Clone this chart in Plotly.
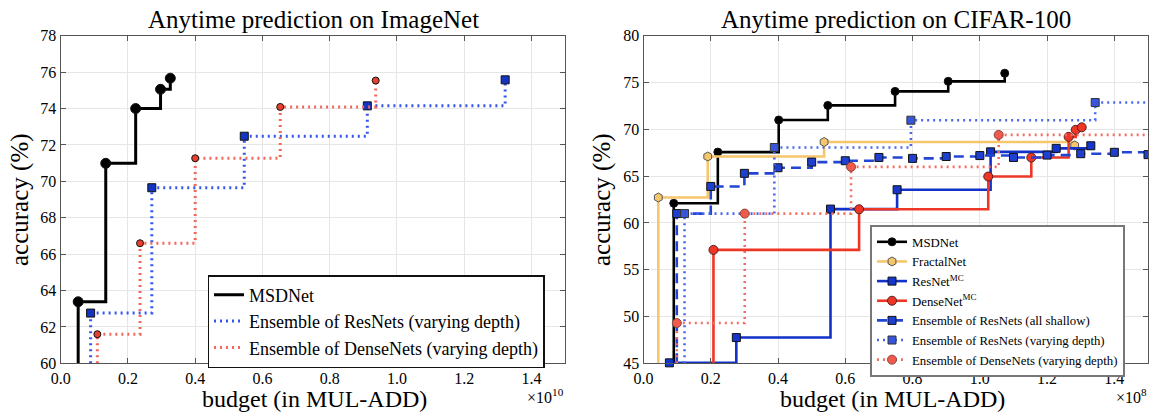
import plotly.graph_objects as go

# ---------------- data ----------------
# ImageNet (budget in units of 1e10 MUL-ADD)
in_msd_x = [0.052, 0.134, 0.223, 0.297, 0.326]
in_msd_y = [63.38, 70.99, 74.0, 75.06, 75.67]
in_resens_x = [0.089, 0.271, 0.546, 0.912, 1.322]
in_resens_y = [62.76, 69.65, 72.48, 74.15, 75.58]
in_denseens_x = [0.109, 0.236, 0.400, 0.653, 0.937]
in_denseens_y = [61.6, 66.6, 71.27, 74.09, 75.54]

# CIFAR-100 (budget in units of 1e8 MUL-ADD)
c_msd_x = [0.090, 0.221, 0.402, 0.548, 0.748, 0.906, 1.074]
c_msd_y = [62.1, 67.57, 71.0, 72.56, 74.06, 75.13, 76.0]
c_fractal_x = [0.044, 0.191, 0.537, 1.282]
c_fractal_y = [62.72, 67.1, 68.65, 68.28]
c_resmc_x = [0.077, 0.276, 0.556, 0.754, 1.032, 1.227, 1.330]
c_resmc_y = [45.05, 47.75, 61.48, 63.55, 67.6, 67.97, 68.25]
c_densemc_x = [0.208, 0.641, 1.025, 1.153, 1.264, 1.285, 1.303]
c_densemc_y = [57.12, 61.46, 64.96, 66.99, 69.2, 69.95, 70.22]
c_resshallow_x = [0.099, 0.2, 0.3, 0.4, 0.5, 0.6, 0.7, 0.8, 0.9, 1.0, 1.1, 1.2, 1.3, 1.4, 1.5]
c_resshallow_y = [61.0, 63.9, 65.3, 65.9, 66.5, 66.65, 67.0, 66.9, 67.1, 67.2, 67.0, 67.25, 67.4, 67.55, 67.3]
c_resvary_x = [0.122, 0.389, 0.795, 1.343]
c_resvary_y = [61.0, 68.06, 70.98, 72.87]
c_densevary_x = [0.099, 0.301, 0.617, 1.056]
c_densevary_y = [49.3, 61.0, 65.99, 69.41]

left_x_range = [0, 1.5]
left_y_range = [60, 78]
right_x_range = [0, 1.5]
right_y_range = [45, 80]
left_y_ticks = [60, 62, 64, 66, 68, 70, 72, 74, 76, 78]
right_y_ticks = [45, 50, 55, 60, 65, 70, 75, 80]
x_ticks = [0.0, 0.2, 0.4, 0.6, 0.8, 1.0, 1.2, 1.4]

# ---------------- layout helpers ----------------
W, H = 1150, 412
FONT = "Liberation Serif"


def px(p):
    return p / W


def py(p):
    return 1 - p / H


L_DOM = [px(60.7), px(565)]
R_DOM = [px(643.5), px(1148)]
Y_DOM = [py(363.3), py(35.8)]

fig = go.Figure()


def add_series(xs, ys, xa, ya, ymin, color, width, dash, symbol, msize, mfill,
               name, legend, legend_markers=True, extend_to=None, medge="#111",
               clip=True):
    # vertical lead-in from the bottom of the axis to the first point
    fig.add_trace(go.Scatter(x=[xs[0], xs[0]], y=[ymin, ys[0]], mode="lines",
                             line=dict(color=color, width=width, dash=dash),
                             xaxis=xa, yaxis=ya, showlegend=False, hoverinfo="skip"))
    if extend_to is not None:
        fig.add_trace(go.Scatter(x=[xs[-1], extend_to], y=[ys[-1], ys[-1]], mode="lines",
                                 line=dict(color=color, width=width, dash=dash),
                                 xaxis=xa, yaxis=ya, showlegend=False, hoverinfo="skip"))
    fig.add_trace(go.Scatter(
        x=xs, y=ys, mode="lines+markers", line_shape="hv",
        line=dict(color=color, width=width, dash=dash),
        marker=dict(symbol=symbol, size=msize, color=mfill, line=dict(color=medge, width=1)),
        xaxis=xa, yaxis=ya, name=name, legend=legend,
        showlegend=legend_markers, cliponaxis=clip))
    if not legend_markers:
        fig.add_trace(go.Scatter(x=[None], y=[None], mode="lines",
                                 line=dict(color=color, width=width, dash=dash),
                                 xaxis=xa, yaxis=ya, name=name, legend=legend))


DOT = "2px,4px"
DASH = "10px,6px"

# ---- left: ImageNet ----
ly0 = left_y_range[0]
add_series(in_msd_x, in_msd_y, "x", "y", ly0, "black", 3, "solid", "circle", 10, "black",
           "MSDNet", "legend", legend_markers=False)
add_series(in_resens_x, in_resens_y, "x", "y", ly0, "#3556ee", 3, DOT, "square", 8, "#1434c4",
           "Ensemble of ResNets (varying depth)", "legend", legend_markers=False)
add_series(in_denseens_x, in_denseens_y, "x", "y", ly0, "#f2685a", 3, DOT, "circle", 7, "#e8402e",
           "Ensemble of DenseNets (varying depth)", "legend", legend_markers=False)

# ---- right: CIFAR-100 ----
ry0 = right_y_range[0]
xmax = right_x_range[1]
add_series(c_msd_x, c_msd_y, "x2", "y2", ry0, "black", 2.6, "solid", "circle", 8, "black",
           "MSDNet", "legend2")
add_series(c_fractal_x, c_fractal_y, "x2", "y2", ry0, "#f6c66c", 2.6, "solid", "hexagon", 9, "#f6c66c",
           "FractalNet", "legend2", medge="#555")
add_series(c_resmc_x, c_resmc_y, "x2", "y2", ry0, "#1231c8", 2.6, "solid", "square", 8, "#1536cc",
           "ResNet<sup>MC</sup>", "legend2", clip=False)
add_series(c_densemc_x, c_densemc_y, "x2", "y2", ry0, "#ee3626", 2.6, "solid", "circle", 9, "#ee3626",
           "DenseNet<sup>MC</sup>", "legend2", medge="#552222")
add_series(c_resshallow_x, c_resshallow_y, "x2", "y2", ry0, "#2345d4", 2.6, DASH, "square", 8, "#1f40cf",
           "Ensemble of ResNets (all shallow)", "legend2")
add_series(c_resvary_x, c_resvary_y, "x2", "y2", ry0, "#4a68ee", 2.6, DOT, "square", 8, "#3855dc",
           "Ensemble of ResNets (varying depth)", "legend2", extend_to=xmax, medge="#333")
add_series(c_densevary_x, c_densevary_y, "x2", "y2", ry0, "#f26e60", 2.6, DOT, "circle", 9, "#f05a4a",
           "Ensemble of DenseNets (varying depth)", "legend2", extend_to=xmax, medge="#884444")

axis_common = dict(ticks="inside", ticklen=5, tickcolor="#555", tickwidth=1,
                   mirror="allticks", showline=True, linecolor="#555", linewidth=1.3,
                   showgrid=True, gridcolor="#e6e6e6", gridwidth=1, zeroline=False,
                   tickfont=dict(family=FONT, size=16, color="black"), automargin=False)

fig.update_layout(
    width=W, height=H,
    margin=dict(l=0, r=0, t=0, b=0),
    paper_bgcolor="white", plot_bgcolor="white",
    font=dict(family=FONT, color="black"),
    xaxis=dict(domain=L_DOM, range=left_x_range, tickvals=x_ticks, tickformat=".1f",
               anchor="y", **axis_common),
    yaxis=dict(domain=Y_DOM, range=left_y_range, tickvals=left_y_ticks, anchor="x", **axis_common),
    xaxis2=dict(domain=R_DOM, range=right_x_range, tickvals=x_ticks, tickformat=".1f",
                anchor="y2", **axis_common),
    yaxis2=dict(domain=Y_DOM, range=right_y_range, tickvals=right_y_ticks, anchor="x2", **axis_common),
    legend=dict(x=px(207.5), y=py(275), xanchor="left", yanchor="top",
                bgcolor="white", bordercolor="#111", borderwidth=1.5,
                font=dict(family=FONT, size=18, color="black"), tracegroupgap=0,
                itemwidth=30),
    legend2=dict(x=px(870), y=py(225), xanchor="left", yanchor="top",
                 bgcolor="white", bordercolor="#777", borderwidth=2,
                 font=dict(family=FONT, size=12.8, color="black"), tracegroupgap=0,
                 itemwidth=30),
    showlegend=True,
)

ann = []


def text(x, y, s, size, angle=0, xanchor="center", yanchor="middle"):
    ann.append(dict(x=x, y=y, xref="paper", yref="paper", text=s, showarrow=False,
                    textangle=angle, xanchor=xanchor, yanchor=yanchor,
                    font=dict(family=FONT, size=size, color="black")))


text(px(313), py(20), "Anytime prediction on ImageNet", 25)
text(px(896), py(20), "Anytime prediction on CIFAR-100", 25)
text(px(314), py(399), "budget (in MUL-ADD)", 24)
text(px(892), py(399), "budget (in MUL-ADD)", 24)
text(px(20), py(200), "accuracy (%)", 25, angle=-90)
text(px(602), py(200), "accuracy (%)", 25, angle=-90)
text(px(566), py(396), "×10<sup>10</sup>", 16, xanchor="right")
text(px(1149), py(396), "×10<sup>8</sup>", 16, xanchor="right")
fig.update_layout(annotations=ann)

fig.write_html("out.html", config={"displayModeBar": False},
               post_script="document.body.style.margin='0';document.body.style.overflow='hidden';")
